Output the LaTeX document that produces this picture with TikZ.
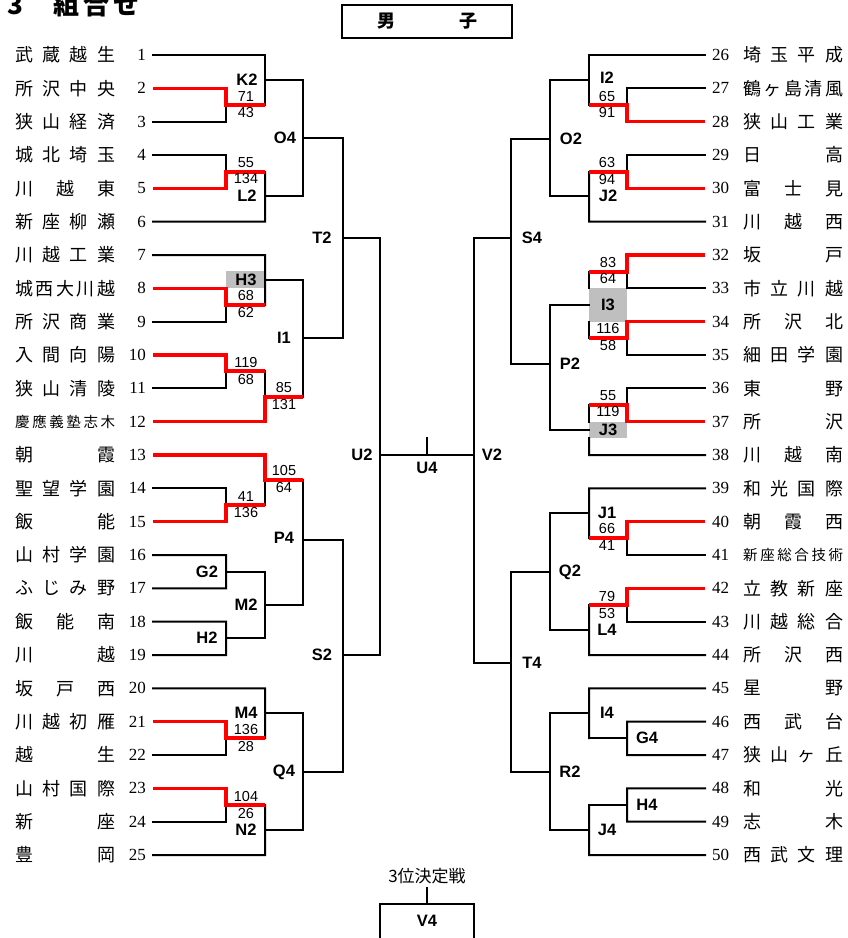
\documentclass[tikz,border=0pt]{standalone}
\usepackage{fontspec}
\usepackage{tikz}
\newfontfamily\jpfont{Noto Sans CJK JP}
\newfontfamily\labfont{Liberation Sans}
\newfontfamily\numfont{Liberation Serif}
\newcommand{\fl}{\hfill}
\newcommand{\smallname}{\fontsize{14.5}{14.5}\selectfont}

\begin{document}
\begin{tikzpicture}[x=1pt, y=-1pt,
    ln/.style={line width=2pt, line cap=rect},
    win/.style={line width=3.6pt, color=red},
    team/.style={font=\jpfont\fontsize{18}{18}\selectfont, inner sep=0pt},
    num/.style={font=\numfont\fontsize{17}{17}\selectfont, inner sep=0pt},
    lbl/.style={font=\labfont\bfseries\fontsize{16.5}{16.5}\selectfont, inner sep=0pt},
    sc/.style={font=\labfont\fontsize{14.5}{14.5}\selectfont, inner sep=0pt},
    shade/.style={fill=black!25}]

    \useasboundingbox (0,0) rectangle (848,938);

    \node[font=\jpfont\bfseries\fontsize{26}{26}\selectfont, anchor=base west, inner sep=0pt] (title) at (7,14) {3\hspace{30pt}組\hspace{4pt}合\hspace{4pt}せ};

    \draw[line width=1.6pt] (342,5) rectangle (512,38);
    \node[font=\jpfont\bfseries\fontsize{18}{18}\selectfont, inner sep=0pt] (boys) at (427,21) {\hbox to 100pt{男\fl 子}};

    % left half
    \foreach \i/\school in {1/武\fl 蔵\fl 越\fl 生, 2/所\fl 沢\fl 中\fl 央, 3/狭\fl 山\fl 経\fl 済,
        4/城\fl 北\fl 埼\fl 玉, 5/川\fl 越\fl 東, 6/新\fl 座\fl 柳\fl 瀬, 7/川\fl 越\fl 工\fl 業,
        8/城\fl 西\fl 大\fl 川\fl 越, 9/所\fl 沢\fl 商\fl 業, 10/入\fl 間\fl 向\fl 陽,
        11/狭\fl 山\fl 清\fl 陵, 12/\smallname 慶\fl 應\fl 義\fl 塾\fl 志\fl 木, 13/朝\fl 霞,
        14/聖\fl 望\fl 学\fl 園, 15/飯\fl 能, 16/山\fl 村\fl 学\fl 園, 17/ふ\fl じ\fl み\fl 野,
        18/飯\fl 能\fl 南, 19/川\fl 越, 20/坂\fl 戸\fl 西, 21/川\fl 越\fl 初\fl 雁, 22/越\fl 生,
        23/山\fl 村\fl 国\fl 際, 24/新\fl 座, 25/豊\fl 岡}
    {
        \pgfmathsetmacro{\yy}{55+(\i-1)*33.333}
        \node[num, anchor=east] (num\i) at (146,\yy) {\i};
        \node[team, anchor=west] (name\i) at (15,\yy) {\hbox to 100pt{\school}};
        \coordinate (t\i) at (153,\yy);
    }

    % right half
    \foreach \i/\school in {26/埼\fl 玉\fl 平\fl 成, 27/鶴\fl ヶ\fl 島\fl 清\fl 風, 28/狭\fl 山\fl 工\fl 業,
        29/日\fl 高, 30/富\fl 士\fl 見, 31/川\fl 越\fl 西, 32/坂\fl 戸, 33/市\fl 立\fl 川\fl 越,
        34/所\fl 沢\fl 北, 35/細\fl 田\fl 学\fl 園, 36/東\fl 野, 37/所\fl 沢, 38/川\fl 越\fl 南,
        39/和\fl 光\fl 国\fl 際, 40/朝\fl 霞\fl 西, 41/\smallname 新\fl 座\fl 総\fl 合\fl 技\fl 術,
        42/立\fl 教\fl 新\fl 座, 43/川\fl 越\fl 総\fl 合, 44/所\fl 沢\fl 西, 45/星\fl 野,
        46/西\fl 武\fl 台, 47/狭\fl 山\fl ヶ\fl 丘, 48/和\fl 光, 49/志\fl 木, 50/西\fl 武\fl 文\fl 理}
    {
        \pgfmathsetmacro{\yy}{55+(\i-26)*33.333}
        \node[num, anchor=west] (num\i) at (712,\yy) {\i};
        \node[team, anchor=west] (name\i) at (743,\yy) {\hbox to 100pt{\school}};
        \coordinate (t\i) at (705,\yy);
    }

    \fill[shade] (226,271) rectangle (265,288);
    \fill[shade] (589,288) rectangle (627,322);
    \fill[shade] (589,422) rectangle (627,438);

    % left, 1-12
    \draw[ln] (t1) -- (265,55) -- (265,105);
    \draw[ln] (t3) -| (226,105);
    \draw[ln] (265,80) -- (303,80);
    \draw[ln] (t4) -| (226,172);
    \draw[ln] (t6) -- (265,221.7) -- (265,172);
    \draw[ln] (265,196) -- (303,196);
    \draw[ln] (303,80) -- (303,196);
    \draw[ln] (303,138) -- (343,138);

    \draw[ln] (t7) -- (265,255) -- (265,305);
    \draw[ln] (t9) -| (226,305);
    \draw[ln] (265,280) -- (303,280);
    \draw[ln] (t11) -| (226,371);
    \draw[ln] (265,371) -- (265,397);
    \draw[ln] (303,280) -- (303,397);
    \draw[ln] (303,338) -- (343,338);
    \draw[ln] (343,138) -- (343,338);
    \draw[ln] (343,238) -- (380,238);

    % left, 13-25
    \draw[ln] (265,480) -- (265,505);
    \draw[ln] (t14) -| (226,505);
    \draw[ln] (t16) -| (226,588.3) -- (t17);
    \draw[ln] (226,572) -- (265,572);
    \draw[ln] (t18) -| (226,655) -- (t19);
    \draw[ln] (226,638) -- (265,638);
    \draw[ln] (265,572) -- (265,638);
    \draw[ln] (265,605) -- (303,605);
    \draw[ln] (303,480) -- (303,605);
    \draw[ln] (303,540) -- (343,540);

    \draw[ln] (t20) -- (265,688.3) -- (265,738);
    \draw[ln] (t22) -| (226,738);
    \draw[ln] (265,713) -- (303,713);
    \draw[ln] (t24) -| (226,805);
    \draw[ln] (t25) -- (265,855) -- (265,805);
    \draw[ln] (265,830) -- (303,830);
    \draw[ln] (303,713) -- (303,830);
    \draw[ln] (303,772) -- (343,772);
    \draw[ln] (343,540) -- (343,772);
    \draw[ln] (343,655) -- (380,655);

    \draw[ln] (380,238) -- (380,655);
    \draw[ln] (380,455) -- (474,455);
    \draw[ln] (427,438) -- (427,455);
    \draw[ln] (474,238) -- (474,663);

    % right, 26-38
    \draw[ln] (t26) -- (589,55) -- (589,105);
    \draw[ln] (t27) -| (627,105);
    \draw[ln] (589,80) -- (550,80);
    \draw[ln] (t29) -| (627,172);
    \draw[ln] (t31) -- (589,221.7) -- (589,172);
    \draw[ln] (589,196) -- (550,196);
    \draw[ln] (550,80) -- (550,196);
    \draw[ln] (550,139) -- (511,139);

    \draw[ln] (t33) -| (627,272);
    \draw[ln] (t35) -| (627,338);
    \draw[ln] (589,272) -- (589,288);
    \draw[ln] (589,322) -- (589,338);
    \draw[ln] (589,305) -- (550,305);
    \draw[ln] (t36) -| (627,405);
    \draw[ln] (t38) -- (589,455) -- (589,438);
    \draw[ln] (589,405) -- (589,422);
    \draw[ln] (589,430) -- (550,430);
    \draw[ln] (550,305) -- (550,430);
    \draw[ln] (550,364) -- (511,364);
    \draw[ln] (511,139) -- (511,364);
    \draw[ln] (511,238) -- (474,238);

    % right, 39-50
    \draw[ln] (t39) -- (589,488.3) -- (589,538);
    \draw[ln] (t41) -| (627,538);
    \draw[ln] (589,513) -- (550,513);
    \draw[ln] (t43) -| (627,605);
    \draw[ln] (t44) -- (589,655) -- (589,605);
    \draw[ln] (589,630) -- (550,630);
    \draw[ln] (550,513) -- (550,630);
    \draw[ln] (550,572) -- (511,572);

    \draw[ln] (t45) -- (589,688.3) -- (589,738);
    \draw[ln] (t46) -| (627,755) -- (t47);
    \draw[ln] (627,738) -- (589,738);
    \draw[ln] (589,713) -- (550,713);
    \draw[ln] (t48) -| (627,821.7) -- (t49);
    \draw[ln] (627,805) -- (589,805);
    \draw[ln] (t50) -- (589,855) -- (589,805);
    \draw[ln] (589,830) -- (550,830);
    \draw[ln] (550,713) -- (550,830);
    \draw[ln] (550,772) -- (511,772);
    \draw[ln] (511,572) -- (511,772);
    \draw[ln] (511,663) -- (474,663);

    % winners
    \draw[win] (t2) -| (226,105) -- (265,105);
    \draw[win] (t5) -| (226,172) -- (265,172);
    \draw[win] (t8) -| (226,305) -- (265,305);
    \draw[win] (t10) -| (226,371) -- (265,371);
    \draw[win] (t12) -| (265,397) -- (303,397);
    \draw[win] (t13) -| (265,480) -- (303,480);
    \draw[win] (t15) -| (226,505) -- (265,505);
    \draw[win] (t21) -| (226,738) -- (265,738);
    \draw[win] (t23) -| (226,805) -- (265,805);

    \draw[win] (t28) -| (627,105) -- (589,105);
    \draw[win] (t30) -| (627,172) -- (589,172);
    \draw[win] (t32) -| (627,272) -- (589,272);
    \draw[win] (t34) -| (627,338) -- (589,338);
    \draw[win] (t37) -| (627,405) -- (589,405);
    \draw[win] (t40) -| (627,538) -- (589,538);
    \draw[win] (t42) -| (627,605) -- (589,605);

    % left labels
    \node[lbl] (K2) at (247,80) {K2};
    \node[sc] (K2a) at (246,97) {71};
    \node[sc] (K2b) at (246,113) {43};
    \node[sc] (L2a) at (246,163) {55};
    \node[sc] (L2b) at (246,179) {134};
    \node[lbl] (L2) at (247,196) {L2};
    \node[lbl] (O4) at (285,138) {O4};
    \node[lbl] (H3) at (246,280) {H3};
    \node[sc] (H3a) at (246,296) {68};
    \node[sc] (H3b) at (246,313) {62};
    \node[sc] (W10a) at (246,363) {119};
    \node[sc] (W10b) at (246,380) {68};
    \node[sc] (I1a) at (284,388) {85};
    \node[sc] (I1b) at (284,405) {131};
    \node[lbl] (I1) at (284,338) {I1};
    \node[lbl] (T2) at (322,238) {T2};
    \node[sc] (P4a) at (284,471) {105};
    \node[sc] (P4b) at (284,488) {64};
    \node[sc] (W15a) at (246,497) {41};
    \node[sc] (W15b) at (246,513) {136};
    \node[lbl] (P4) at (284,538) {P4};
    \node[lbl] (G2) at (207,572) {G2};
    \node[lbl] (H2) at (207,638) {H2};
    \node[lbl] (M2) at (246,605) {M2};
    \node[lbl] (M4) at (246,713) {M4};
    \node[sc] (M4a) at (246,729) {136};
    \node[sc] (M4b) at (246,746) {28};
    \node[sc] (N2a) at (246,796) {104};
    \node[sc] (N2b) at (246,813) {26};
    \node[lbl] (N2) at (246,830) {N2};
    \node[lbl] (Q4) at (284,772) {Q4};
    \node[lbl] (S2) at (322,655) {S2};
    \node[lbl] (U2) at (362,455) {U2};
    \node[lbl] (U4) at (427,468) {U4};
    \node[lbl] (V2) at (492,455) {V2};

    % right labels
    \node[lbl] (I2) at (607,78) {I2};
    \node[sc] (I2a) at (607,97) {65};
    \node[sc] (I2b) at (607,113) {91};
    \node[sc] (J2a) at (607,163) {63};
    \node[sc] (J2b) at (607,180) {94};
    \node[lbl] (J2) at (608,196) {J2};
    \node[lbl] (O2) at (571,139) {O2};
    \node[sc] (I3a) at (608,263) {83};
    \node[sc] (I3b) at (608,279) {64};
    \node[lbl] (I3) at (608,305) {I3};
    \node[sc] (I3c) at (608,329) {116};
    \node[sc] (I3d) at (608,346) {58};
    \node[lbl] (P2) at (570,364) {P2};
    \node[sc] (J3a) at (608,396) {55};
    \node[sc] (J3b) at (608,412) {119};
    \node[lbl] (J3) at (608,430) {J3};
    \node[lbl] (S4) at (532,238) {S4};
    \node[lbl] (J1) at (607,513) {J1};
    \node[sc] (J1a) at (607,529) {66};
    \node[sc] (J1b) at (607,546) {41};
    \node[lbl] (Q2) at (570,572) {Q2};
    \node[sc] (L4a) at (607,596) {79};
    \node[sc] (L4b) at (607,613) {53};
    \node[lbl] (L4) at (607,630) {L4};
    \node[lbl] (T4) at (532,663) {T4};
    \node[lbl] (I4) at (607,713) {I4};
    \node[lbl] (G4) at (647,738) {G4};
    \node[lbl] (R2) at (570,772) {R2};
    \node[lbl] (H4) at (647,805) {H4};
    \node[lbl] (J4) at (607,830) {J4};

    % third place
    \node[font=\jpfont\fontsize{17}{17}\selectfont, inner sep=0pt] (third) at (427,876) {3位決定戦};
    \coordinate (tp) at (427,888);
    \draw[ln] (tp) -- (427,904);
    \draw[ln] (380,945) -- (380,904) -- (474,904) -- (474,945);
    \node[lbl] (V4) at (427,921) {V4};

\end{tikzpicture}
\end{document}
